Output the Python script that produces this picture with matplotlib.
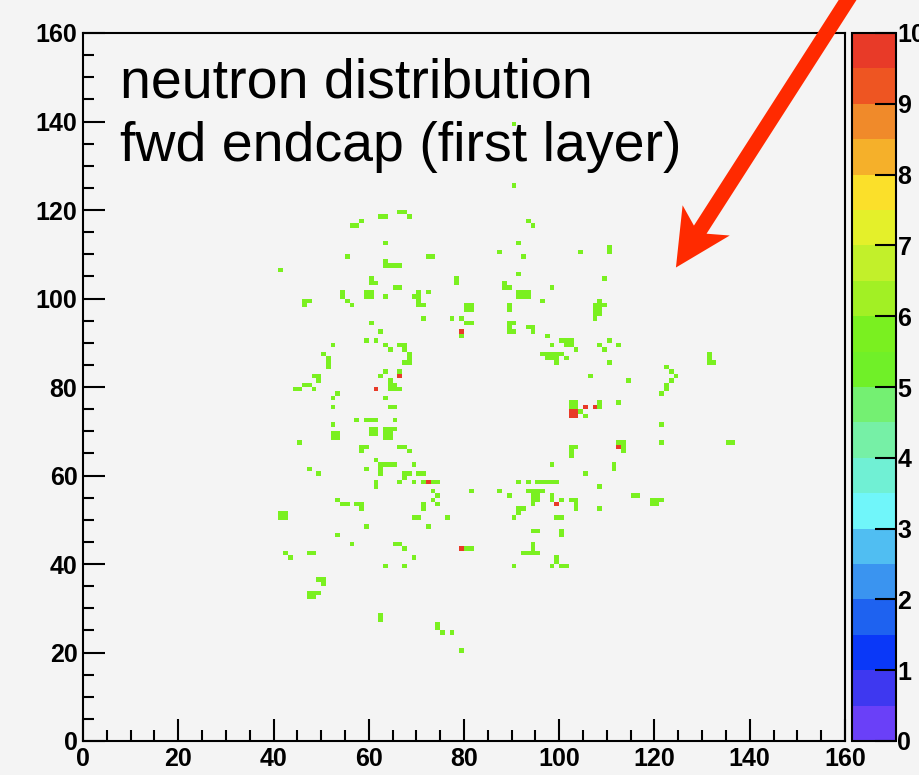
import numpy as np
import matplotlib
matplotlib.use('Agg')
import matplotlib.pyplot as plt
from matplotlib.colors import ListedColormap, BoundaryNorm
from matplotlib.patches import Polygon
from matplotlib.transforms import IdentityTransform

# occupied bins (x, y) of the 160x160 histogram
green_cells = [
    (66, 119), (67, 119), (68, 118), (56, 116), (57, 116), (58, 117), (62, 118), (63, 118),
    (63, 112), (55, 109), (72, 109), (73, 109), (87, 110), (41, 106),
    (63, 108), (63, 107), (64, 107), (65, 107), (66, 107),
    (60, 104), (60, 103), (61, 103), (59, 101), (59, 100), (60, 101), (60, 100),
    (63, 100), (65, 102), (66, 102), (72, 101), (78, 104), (78, 103), (88, 103), (88, 102),
    (70, 101), (69, 100), (70, 100), (70, 99), (70, 98), (71, 98), (71, 95),
    (46, 99), (47, 99), (46, 98), (54, 101), (54, 100), (55, 99), (56, 98),
    (80, 98), (81, 98), (80, 97), (81, 97), (77, 95), (79, 95), (80, 94), (81, 94), (79, 91),
    (60, 94), (62, 92), (59, 90), (61, 90), (63, 89), (64, 88),
    (66, 89), (67, 89), (67, 88), (68, 87), (68, 86), (67, 85), (68, 85),
    (52, 89), (50, 87), (51, 86), (51, 85), (51, 84), (48, 82), (49, 82), (49, 81),
    (44, 79), (45, 79), (46, 80), (47, 80), (48, 79), (52, 77), (53, 78), (52, 75),
    (62, 82), (63, 83), (64, 81), (66, 83), (64, 80), (65, 80), (64, 79), (65, 79), (66, 79),
    (63, 77), (64, 75), (65, 75),
    (90, 125), (90, 139), (93, 117), (94, 116), (91, 112), (92, 109), (104, 110),
    (110, 111), (110, 110), (91, 105), (89, 102),
    (91, 101), (92, 101), (93, 101), (91, 100), (92, 100), (93, 100),
    (98, 102), (96, 99), (109, 104),
    (108, 99), (107, 98), (108, 98), (109, 98), (107, 97), (108, 97), (107, 96), (108, 96), (107, 95),
    (89, 98), (89, 97), (89, 94), (89, 93), (89, 92), (90, 92), (90, 94),
    (93, 93), (94, 93), (94, 92), (97, 91), (98, 89),
    (100, 90), (101, 90), (102, 90), (101, 89), (102, 89), (103, 88),
    (96, 87), (97, 87), (98, 87), (99, 87), (100, 87), (97, 86), (98, 86), (99, 86), (101, 86), (99, 85),
    (108, 89), (109, 88), (110, 90), (112, 89), (110, 85), (106, 82), (114, 81), (112, 76),
    (131, 87), (131, 86), (131, 85), (132, 85),
    (122, 84), (123, 83), (124, 82), (123, 81), (122, 80), (122, 79), (121, 78),
    (102, 76), (103, 76), (102, 75), (103, 75), (104, 74), (105, 73), (108, 76), (108, 75),
    (57, 72), (59, 72), (60, 72), (61, 72), (65, 72),
    (52, 71), (52, 69), (53, 69), (52, 68), (53, 68),
    (60, 70), (61, 70), (60, 69), (61, 69),
    (63, 70), (64, 70), (65, 70), (63, 69), (64, 69), (63, 68), (64, 68),
    (45, 67), (58, 66), (58, 65), (59, 66), (66, 66), (67, 66), (68, 65), (61, 63),
    (62, 62), (63, 62), (64, 62), (65, 62), (62, 61), (62, 60),
    (59, 61), (47, 61), (49, 60),
    (69, 62), (70, 60), (71, 60), (67, 60), (68, 60), (67, 59), (69, 58), (66, 58),
    (71, 58), (73, 58), (74, 58), (61, 58), (61, 57),
    (73, 56), (74, 55), (73, 54), (74, 53), (81, 56), (87, 56), (89, 55),
    (53, 54), (54, 53), (55, 53), (57, 53), (58, 53), (58, 52), (71, 53), (71, 52),
    (41, 51), (42, 51), (41, 50), (42, 50), (69, 50), (70, 50), (76, 50),
    (59, 48), (72, 48), (53, 46), (56, 44), (65, 44), (66, 44), (67, 43),
    (80, 43), (81, 43), (69, 41), (42, 42), (43, 41), (47, 42), (48, 42),
    (63, 39), (67, 39),
    (49, 36), (50, 36), (50, 35), (47, 33), (48, 33), (49, 33), (47, 32), (48, 32),
    (62, 28), (62, 27), (74, 26), (74, 25), (75, 24), (77, 24), (79, 20),
    (121, 71), (121, 67), (135, 67), (136, 67),
    (102, 66), (102, 65), (102, 64), (103, 66),
    (112, 67), (113, 67), (113, 66), (113, 65),
    (111, 62), (111, 61), (105, 60), (108, 57), (98, 62),
    (91, 58), (93, 58), (95, 58), (96, 58), (97, 58), (98, 58), (99, 58),
    (93, 56), (94, 56), (95, 56), (96, 56), (94, 55), (95, 55), (94, 54), (95, 54), (94, 53),
    (98, 55), (98, 54), (100, 54),
    (102, 54), (103, 54), (103, 53), (103, 52), (108, 52), (115, 55), (116, 55),
    (119, 54), (120, 54), (121, 54), (119, 53), (120, 53),
    (91, 52), (92, 52), (91, 51), (90, 50), (99, 50), (100, 50),
    (94, 47), (95, 47), (100, 47), (100, 46),
    (92, 42), (93, 42), (94, 42), (95, 42), (94, 44), (94, 43),
    (90, 39), (99, 41), (99, 40), (100, 39), (101, 39), (98, 39),
]
red_cells = [
    (79, 92), (66, 82), (61, 79), (72, 58), (79, 43), (99, 53), (112, 66),
    (102, 74), (103, 74), (102, 73), (103, 73), (105, 75), (107, 75),
]
green_value = 5.6
red_value = 9.8

levels = np.linspace(0, 10, 21)
palette = ['#6a40f8', '#3e38f0', '#0a38f8', '#1e62f0', '#3a94f0', '#50bef2',
           '#70f6fa', '#70f0d4', '#76f0a6', '#74f072', '#70f028', '#7af020',
           '#a2f024', '#c2f02a', '#e4f02a', '#fbe02a', '#f5b02a', '#f08a2a',
           '#ee5522', '#e83a28']
cbar_ticks = list(range(11))
title_lines = ['neutron distribution', 'fwd endcap (first layer)']

bg = '#f4f4f4'
grid = np.full((160, 160), np.nan)
for x, y in green_cells:
    grid[y, x] = green_value
for x, y in red_cells:
    grid[y, x] = red_value

cmap = ListedColormap(palette)
cmap.set_bad((0, 0, 0, 0))
norm = BoundaryNorm(levels, cmap.N)

fig = plt.figure(figsize=(9.2, 7.75), dpi=100, facecolor=bg)
ax = fig.add_axes([83 / 920, 1 - 741 / 775, 762 / 920, 708 / 775], facecolor=bg)
edges = np.arange(161)
mesh = ax.pcolormesh(edges, edges, np.ma.masked_invalid(grid), cmap=cmap, norm=norm)
ax.set_xlim(0, 160)
ax.set_ylim(0, 160)
ax.set_xticks(np.arange(0, 161, 20))
ax.set_yticks(np.arange(0, 161, 20))
ax.set_xticks(np.arange(0, 161, 5), minor=True)
ax.set_yticks(np.arange(0, 161, 5), minor=True)
ax.tick_params(which='both', direction='in', width=1.5, top=False, right=False,
               labelsize=18, colors='black')
ax.tick_params(which='major', length=16, pad=4)
ax.tick_params(which='minor', length=8)
for lab in ax.get_xticklabels() + ax.get_yticklabels():
    lab.set_fontweight('bold')
    lab.set_family('Liberation Sans')
for s in ax.spines.values():
    s.set_linewidth(1.5)

cax = fig.add_axes([852 / 920, 1 - 741 / 775, 44 / 920, 708 / 775])
cb = fig.colorbar(mesh, cax=cax, ticks=cbar_ticks)
cb.outline.set_linewidth(1.5)
cax.tick_params(direction='in', length=15, width=1.5, labelsize=18, pad=1)
cax.minorticks_off()
for lab in cax.get_yticklabels():
    lab.set_fontweight('bold')
    lab.set_family('Liberation Sans')

fig.text(120 / 920, 1 - 97 / 775, title_lines[0], fontsize=40,
         family='Liberation Sans', va='baseline')
fig.text(120 / 920, 1 - 161 / 775, title_lines[1], fontsize=40,
         family='Liberation Sans', va='baseline')

# big red pointer arrow, tip in data coordinates, tail above the figure
tip = np.array(ax.transData.transform((124.5, 107.0)))
tail = np.array([854.0, 785.0])
d = (tip - tail) / np.linalg.norm(tip - tail)
n = np.array([-d[1], d[0]])
head_len, head_half, notch, shaft_half = 56, 28, 45, 7.5
pts = [tip,
       tip - head_len * d + head_half * n,
       tip - notch * d + shaft_half * n,
       tail + shaft_half * n,
       tail - shaft_half * n,
       tip - notch * d - shaft_half * n,
       tip - head_len * d - head_half * n]
fig.add_artist(Polygon(pts, closed=True, transform=IdentityTransform(),
                       facecolor='#ff2a00', edgecolor='none', clip_on=False))

fig.savefig('out.png', dpi=100, facecolor=bg)
